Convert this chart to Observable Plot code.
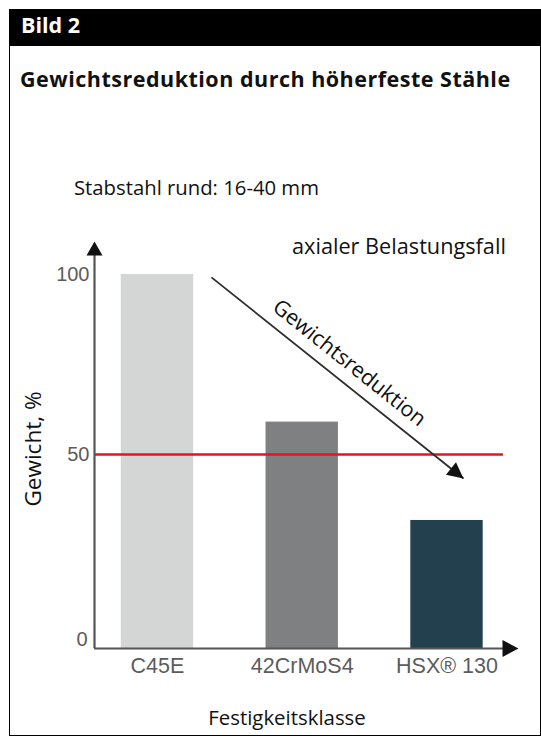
<!DOCTYPE html>
<html>
<head>
<meta charset="utf-8">
<script src="https://cdn.jsdelivr.net/npm/d3@7"></script>
<script src="https://cdn.jsdelivr.net/npm/@observablehq/plot@0.6"></script>
<style>
  body { margin: 0; background: #fff; }
  #fig { position: relative; width: 541px; height: 744px; overflow: hidden; background: #fff;
         font-family: "Open Sans", "Noto Sans", sans-serif; color: #111; }
  #frame { position: absolute; left: 9px; top: 9px; width: 532px; height: 727px;
           border: 1.5px solid #000; box-sizing: border-box; }
  #band { position: absolute; left: 9px; top: 9px; width: 532px; height: 37px; background: #000; }
  .t { position: absolute; white-space: nowrap; line-height: 1; }
  #chart { position: absolute; left: 0; top: 225px; }
</style>
</head>
<body>
<div id="fig">
  <div id="frame"></div>
  <div id="band"></div>
  <div class="t" style="left:21px; top:14.1px; font-size:21.5px; font-weight:700; color:#fff;">Bild 2</div>
  <div class="t" style="left:20px; top:67.9px; font-size:21.5px; font-weight:700; letter-spacing:0.5px;">Gewichtsreduktion durch höherfeste Stähle</div>
  <div class="t" style="left:74px; top:177px; font-size:20.3px;">Stabstahl rund: 16-40 mm</div>
  <div class="t" style="left:292px; top:234.8px; font-size:21.7px;">axialer Belastungsfall</div>
  <div class="t" style="left:33px; top:449px; font-size:22.5px; transform: translate(-50%, -50%) rotate(-90deg);">Gewicht, %</div>
  <div class="t" style="left:287px; top:706.9px; font-size:20.4px; transform: translateX(-50%);">Festigkeitsklasse</div>
  <div id="chart"></div>
</div>
<script>
// Steel grades and their relative weight (%) for the same axial load
const categories = ["C45E", "42CrMoS4", "HSX® 130"];
const weights = [100, 59, 33];
const yTicks = [0, 50, 100];
const halfLine = 50;

// Axis extents in category units (bars sit at 0, 1, 2)
const xStart = -0.435;
const xEnd = 2.494;
const yTop = 109.2;
const redEnd = 2.39;

// "Gewichtsreduktion" trend arrow, in data units
const trend = {x1: 0.373, y1: 99.2, x2: 2.114, y2: 43.8};
const trendAngle = 38.6;

const bars = categories.map((c, i) => ({cat: c, i, w: weights[i]}));

// Filled triangular arrowhead with its tip at the anchor point
function head(angleDeg, len = 15, wid = 16) {
  const a = angleDeg * Math.PI / 180;
  const ux = Math.cos(a), uy = Math.sin(a);
  const nx = -uy, ny = ux;
  return {
    draw(ctx) {
      ctx.moveTo(0, 0);
      ctx.lineTo(-ux * len + nx * wid / 2, -uy * len + ny * wid / 2);
      ctx.lineTo(-ux * len - nx * wid / 2, -uy * len - ny * wid / 2);
      ctx.closePath();
    }
  };
}

const axisColor = "#555";
const tickFont = {fontFamily: "'Liberation Sans', Arial, sans-serif", fontSize: 20, fill: "#5c5c5c"};
const catFont = {...tickFont, fontSize: 21.5};

const chart = Plot.plot({
  width: 541,
  height: 475,
  x: {type: "linear", domain: [xStart, xEnd], range: [94, 518], axis: null},
  y: {type: "linear", domain: [0, 50, 100], range: [423, 229, 49], axis: null},
  color: {domain: categories, range: ["#d4d5d5", "#7f8081", "#23404f"]},
  marks: [
    Plot.rectY(bars, {x1: d => d.i - 0.25, x2: d => d.i + 0.25, y1: 0, y2: "w", fill: "cat"}),
    Plot.ruleY([halfLine], {x1: xStart, x2: redEnd, stroke: "#e3151e", strokeWidth: 2.6}),
    // axes with arrowheads
    Plot.ruleX([xStart], {y1: 0, y2: yTop - 2, stroke: axisColor, strokeWidth: 2.2}),
    Plot.ruleY([0], {x1: xStart, x2: xEnd - 0.05, stroke: axisColor, strokeWidth: 2.2}),
    Plot.dot([{x: xStart, y: yTop}], {x: "x", y: "y", symbol: head(-90, 14, 16), r: 5, fill: "#111", stroke: "none"}),
    Plot.dot([{x: xEnd, y: 0}], {x: "x", y: "y", symbol: head(0, 16, 17), r: 5, fill: "#111", stroke: "none"}),
    // tick labels
    Plot.text(yTicks.filter(t => t > 0), {x: xStart, y: d => d, text: d => String(d), textAnchor: "end", dx: -5, ...tickFont}),
    Plot.text(yTicks.filter(t => t === 0), {x: xStart, y: d => d, text: d => String(d), textAnchor: "end", dx: -7, dy: -9, ...tickFont}),
    Plot.text(bars, {x: "i", y: 0, text: "cat", dy: 18, ...catFont}),
    // trend arrow
    Plot.link([trend], {x1: "x1", y1: "y1", x2: "x2", y2: "y2", stroke: "#2e2e2e", strokeWidth: 1.8}),
    Plot.dot([trend], {x: "x2", y: "y2", symbol: head(trendAngle, 16, 16), r: 5, fill: "#111", stroke: "none"}),
    Plot.text([trend], {
      x: d => (d.x1 + d.x2) / 2, y: 71.3, text: () => "Gewichtsreduktion",
      rotate: trendAngle, dx: 11.8, dy: -14.8, fontSize: 21.5,
      fontFamily: "'Open Sans', sans-serif", fill: "#111"
    })
  ]
});
document.getElementById("chart").appendChild(chart);
</script>
</body>
</html>
